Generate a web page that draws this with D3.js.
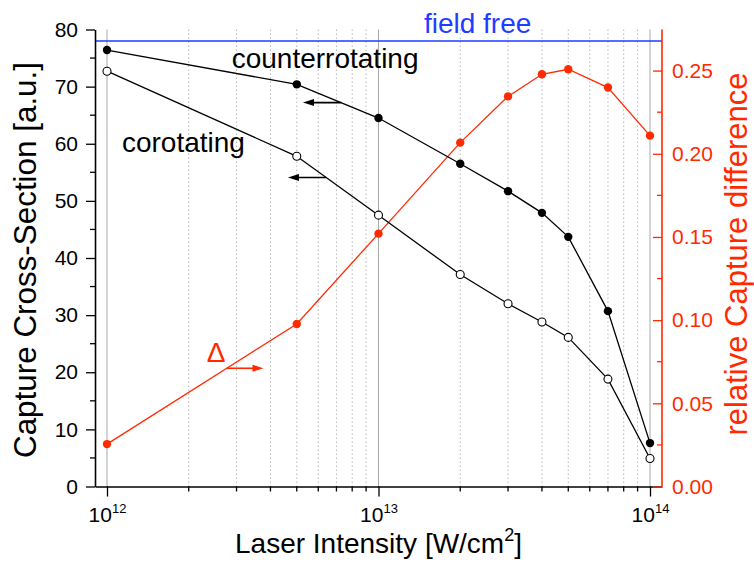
<!DOCTYPE html>
<html>
<head>
<meta charset="utf-8">
<script src="https://cdn.jsdelivr.net/npm/d3@7/dist/d3.min.js"></script>
<style>
  html, body { margin: 0; padding: 0; background: #fff; }
  svg { display: block; font-family: "Liberation Sans", Arial, sans-serif; }
</style>
</head>
<body>
<svg id="chart" width="754" height="569"></svg>
<script>
// Laser intensity (W/cm^2) at which each cross-section was computed
const intensity = [1e12, 5e12, 1e13, 2e13, 3e13, 4e13, 5e13, 7e13, 1e14];
// Capture cross-section [a.u.] for the two polarisation configurations
const counterrotating = [76.4, 70.4, 64.5, 56.5, 51.7, 47.9, 43.7, 30.7, 7.6];
const corotating = [72.7, 57.8, 47.5, 37.1, 32.0, 28.8, 26.1, 18.8, 4.9];
// Relative capture difference (right axis)
const relativeDiff = [0.0255, 0.0977, 0.152, 0.2067, 0.2345, 0.2478, 0.2508, 0.2398, 0.2109];
// Field-free reference cross-section
const fieldFree = 78.0;

const leftTicks = [0, 10, 20, 30, 40, 50, 60, 70, 80];
const rightTicks = [0, 0.05, 0.10, 0.15, 0.20, 0.25];
const decades = [12, 13, 14];

const RED = "#ff2a00";
const BLUE = "#1f3dff";

const svg = d3.select("#chart");
const plot = { left: 95, right: 662, top: 29.5, bottom: 486.5 };

// log x scale: decades 1e12..1e14 sit slightly inside the frame
const xCore = d3.scaleLog().domain([1e12, 1e14]).range([107, 650]);
const x = d3.scaleLog()
  .domain([xCore.invert(plot.left), xCore.invert(plot.right)])
  .range([plot.left, plot.right]);
const y = d3.scaleLinear().domain([0, 80]).range([plot.bottom, plot.top]);
const yR = d3.scaleLinear().domain([0, 0.2747]).range([plot.bottom, plot.top]);

// minor log positions 2..9 x 10^n
const minorX = [];
[12, 13].forEach(e => { for (let m = 2; m <= 9; m++) minorX.push(m * Math.pow(10, e)); });
const majorX = decades.map(e => Math.pow(10, e));

// grid
const grid = svg.append("g");
grid.selectAll("line.minor").data(minorX).join("line")
  .attr("x1", d => x(d)).attr("x2", d => x(d))
  .attr("y1", plot.top).attr("y2", plot.bottom)
  .attr("stroke", "#b8b8b8").attr("stroke-width", 1)
  .attr("stroke-dasharray", "1.5,2.5");
grid.selectAll("line.major").data(majorX).join("line")
  .attr("x1", d => x(d)).attr("x2", d => x(d))
  .attr("y1", plot.top).attr("y2", plot.bottom)
  .attr("stroke", "#a8a8a8").attr("stroke-width", 1);

// field free line
svg.append("line")
  .attr("x1", plot.left).attr("x2", plot.right)
  .attr("y1", y(fieldFree)).attr("y2", y(fieldFree))
  .attr("stroke", BLUE).attr("stroke-width", 1.6);

// left axis
const leftAxis = svg.append("g").attr("transform", `translate(${plot.left},0)`)
  .call(d3.axisLeft(y).tickValues(leftTicks).tickSize(9).tickSizeOuter(0).tickPadding(8));
leftAxis.append("g").selectAll("line").data(d3.range(5, 80, 10)).join("line")
  .attr("x1", -5).attr("x2", 0).attr("y1", d => y(d)).attr("y2", d => y(d))
  .attr("stroke", "#000").attr("stroke-width", 1.3);

// bottom axis
const bottomAxis = svg.append("g").attr("transform", `translate(0,${plot.bottom})`)
  .call(d3.axisBottom(x).tickValues(majorX).tickSize(10).tickSizeOuter(0).tickFormat(""));
bottomAxis.append("g").selectAll("line").data(minorX).join("line")
  .attr("x1", d => x(d)).attr("x2", d => x(d)).attr("y1", 0).attr("y2", 5)
  .attr("stroke", "#000").attr("stroke-width", 1.3);
bottomAxis.selectAll(".tick").each(function(d) {
  const t = d3.select(this).append("text")
    .attr("fill", "#000").attr("y", 35).attr("text-anchor", "middle")
    .style("font-size", "21px");
  t.append("tspan").text("10");
  t.append("tspan").text(Math.round(Math.log10(d))).attr("dy", -9).style("font-size", "13px");
});

[leftAxis, bottomAxis].forEach(a => {
  a.selectAll("path.domain").attr("stroke", "#000").attr("stroke-width", 1.6);
  a.selectAll(".tick line").attr("stroke", "#000").attr("stroke-width", 1.3);
});
leftAxis.selectAll(".tick text").style("font-size", "21px").attr("fill", "#000");

// right axis (ticks point inward)
const rightAxis = svg.append("g").attr("transform", `translate(${plot.right},0)`)
  .call(d3.axisRight(yR).tickValues(rightTicks).tickSize(-9).tickSizeOuter(0)
    .tickPadding(10).tickFormat(d3.format(".2f")));
rightAxis.append("g").selectAll("line").data(d3.range(0.025, 0.27, 0.05)).join("line")
  .attr("x1", -5).attr("x2", 0).attr("y1", d => yR(d)).attr("y2", d => yR(d))
  .attr("stroke", RED).attr("stroke-width", 1.3);
rightAxis.selectAll("path.domain").attr("stroke", RED).attr("stroke-width", 1.6)
  .attr("d", `M0,${plot.bottom}V${plot.top}`);
rightAxis.selectAll(".tick line").attr("stroke", RED).attr("stroke-width", 1.3);
rightAxis.selectAll(".tick text").attr("fill", RED).style("font-size", "21px");

// series lines and markers
const lineL = d3.line().x((d, i) => x(intensity[i])).y(d => y(d));
const lineR = d3.line().x((d, i) => x(intensity[i])).y(d => yR(d));

svg.append("path").datum(relativeDiff).attr("d", lineR)
  .attr("fill", "none").attr("stroke", RED).attr("stroke-width", 1.3);
svg.append("path").datum(counterrotating).attr("d", lineL)
  .attr("fill", "none").attr("stroke", "#000").attr("stroke-width", 1.3);
svg.append("path").datum(corotating).attr("d", lineL)
  .attr("fill", "none").attr("stroke", "#000").attr("stroke-width", 1.3);

svg.append("g").selectAll("circle").data(relativeDiff).join("circle")
  .attr("cx", (d, i) => x(intensity[i])).attr("cy", d => yR(d)).attr("r", 4.2)
  .attr("fill", RED);
svg.append("g").selectAll("circle").data(counterrotating).join("circle")
  .attr("cx", (d, i) => x(intensity[i])).attr("cy", d => y(d)).attr("r", 4.2)
  .attr("fill", "#000");
svg.append("g").selectAll("circle").data(corotating).join("circle")
  .attr("cx", (d, i) => x(intensity[i])).attr("cy", d => y(d)).attr("r", 4)
  .attr("fill", "#fff").attr("stroke", "#000").attr("stroke-width", 1.1);

// arrows pointing to the axis each curve belongs to
function arrow(x1, x2, yy, color) {
  const dir = Math.sign(x2 - x1);
  svg.append("line").attr("x1", x1).attr("x2", x2 - dir * 6).attr("y1", yy).attr("y2", yy)
    .attr("stroke", color).attr("stroke-width", 1.6);
  svg.append("path")
    .attr("d", `M${x2},${yy}L${x2 - dir * 11},${yy - 3.5}L${x2 - dir * 11},${yy + 3.5}Z`)
    .attr("fill", color);
}
arrow(x(7.3e12), x(5.27e12), y(67.2), "#000");
arrow(x(6.4e12), x(4.64e12), y(54.1), "#000");
arrow(x(2.76e12), x(3.77e12), y(20.7), RED);

// in-plot labels
svg.append("text").attr("x", x(1.47e13)).attr("y", 33).attr("fill", BLUE)
  .style("font-size", "28px").text("field free");
svg.append("text").attr("x", x(2.88e12)).attr("y", 68).attr("fill", "#000")
  .style("font-size", "28px").text("counterrotating");
svg.append("text").attr("x", x(1.135e12)).attr("y", 152).attr("fill", "#000")
  .style("font-size", "28px").text("corotating");
svg.append("text").attr("x", x(2.33e12)).attr("y", 362).attr("fill", RED)
  .style("font-size", "28px").text("Δ");

// axis titles
svg.append("text").attr("transform", `translate(36,260) rotate(-90)`)
  .attr("text-anchor", "middle").attr("fill", "#000").style("font-size", "32px")
  .attr("textLength", 396).attr("lengthAdjust", "spacingAndGlyphs")
  .text("Capture Cross-Section [a.u.]");
svg.append("text").attr("transform", `translate(747,254) rotate(-90)`)
  .attr("text-anchor", "middle").attr("fill", RED).style("font-size", "31px")
  .text("relative Capture difference");
const xt = svg.append("text").attr("x", (plot.left + plot.right) / 2).attr("y", 553)
  .attr("text-anchor", "middle").attr("fill", "#000").style("font-size", "28px");
xt.append("tspan").text("Laser Intensity [W/cm");
xt.append("tspan").text("2").attr("dy", -12).style("font-size", "18px");
xt.append("tspan").text("]").attr("dy", 12);
</script>
</body>
</html>
